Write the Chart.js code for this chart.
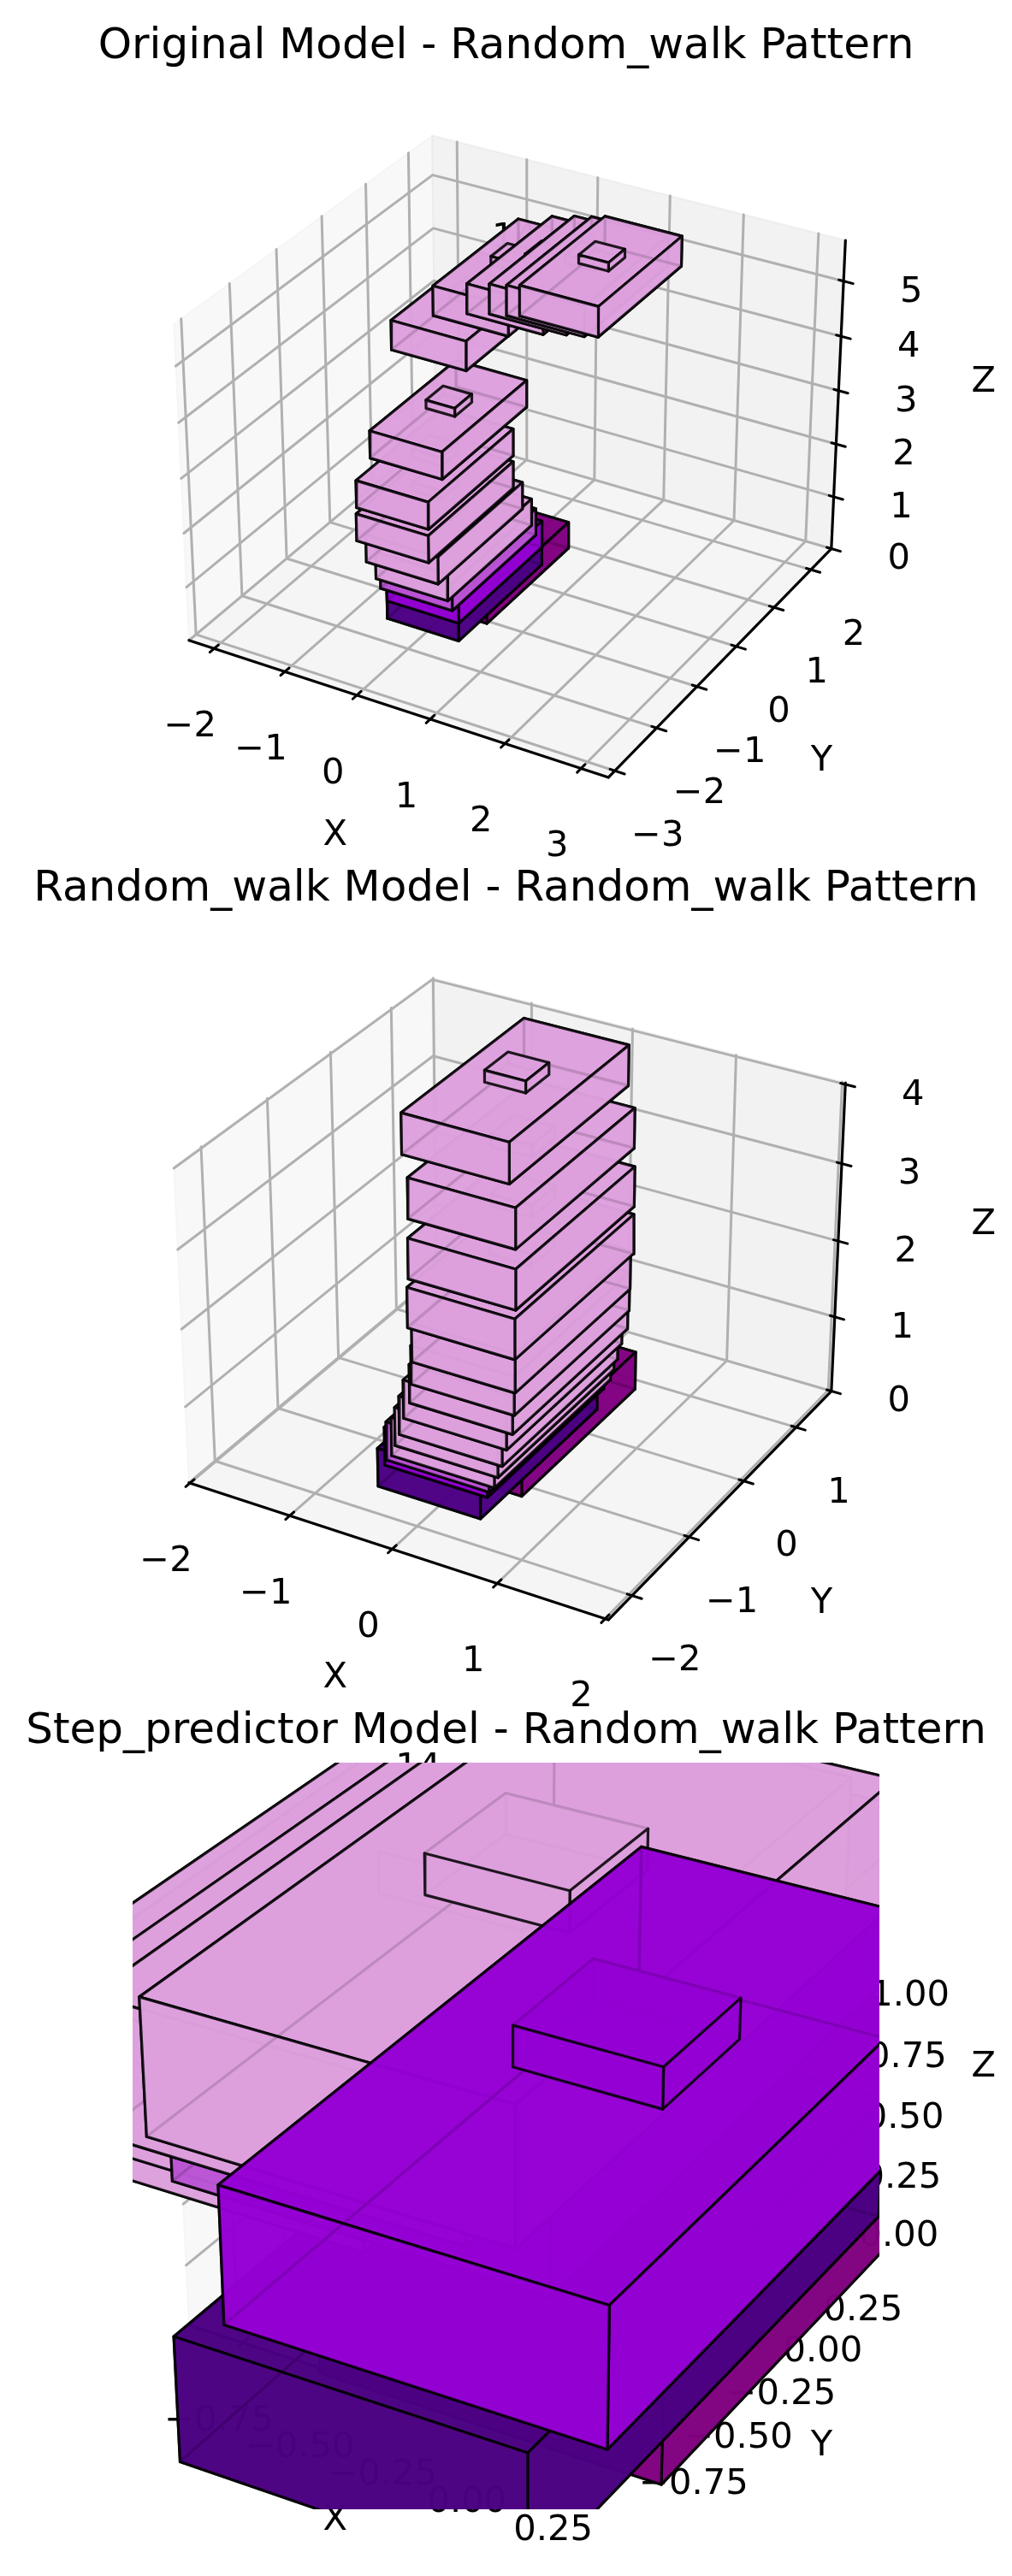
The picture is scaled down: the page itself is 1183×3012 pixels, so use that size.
<!DOCTYPE html>
<html>
<head>
<meta charset="utf-8">
<title>Random_walk Pattern</title>
<script src="https://cdn.jsdelivr.net/npm/chart.js@4"></script>
<style>
  html, body { margin: 0; background: #fff; }
  #wrap { position: relative; width: 1183px; height: 3012px; overflow: hidden; }
  canvas { position: absolute; left: 0; }
</style>
</head>
<body>
<div id="wrap">
  <canvas id="c1" width="1183" height="1042" style="top:0"></canvas>
  <canvas id="c2" width="1183" height="1042" style="top:985px"></canvas>
  <canvas id="c3" width="1183" height="1042" style="top:1970px"></canvas>
</div>
<script>
// layer colours, by layer kind
const layerColors = ['128,0,128', '75,0,130', '148,0,211', '186,85,211', '221,160,221'];

// Original model
const title1 = 'Original Model - Random_walk Pattern';
const xLim1 = [-2.36, 3.355];
const yLim1 = [-3.15, 2.57];
const zLim1 = [0, 5.73];
const xTicks1 = [-2, -1, 0, 1, 2, 3];
const yTicks1 = [-3, -2, -1, 0, 1, 2];
const zTicks1 = [0, 1, 2, 3, 4, 5];
const barX1 = [-0.47, -0.565, -0.567, -0.642, -0.678, -0.784, -0.908, -0.981, -0.976, -1.436, -1.088, -0.544, -0.165, 0.17, 0.482];
const barY1 = [-1.05, -1.55, -1.545, -1.565, -1.608, -1.648, -1.657, -1.531, -1.213, 0.045, 0.453, 0.338, 0.224, 0.053, -0.18];
const barZ1 = [0, 0, 0.33, 0.55, 0.75, 1.05, 1.4, 1.9, 2.6, 3.6, 4.1, 4.4, 4.6, 4.8, 5.05];
const barDX1 = [1, 1, 1, 1, 1, 1, 1, 1, 1, 1.05, 1.05, 1.05, 1.05, 1.05, 1.05];
const barDY1 = [2, 2, 2, 2, 2, 2, 2, 2, 2, 2.06, 2.06, 2.06, 2.06, 2.06, 2.06];
const barDZ1 = [0.5, 0.5, 0.5, 0.5, 0.5, 0.5, 0.5, 0.5, 0.5, 0.54, 0.54, 0.54, 0.54, 0.54, 0.54];
const barKind1 = [0, 1, 2, 3, 4, 4, 4, 4, 4, 4, 4, 4, 4, 4, 4];
const note1 = [-0.09, 0.69, 5.7];

// Random_walk model
const title2 = 'Random_walk Model - Random_walk Pattern';
const xLim2 = [-2.01, 2.03];
const yLim2 = [-2.4, 1.7];
const zLim2 = [0, 4.02];
const xTicks2 = [-2, -1, 0, 1, 2];
const yTicks2 = [-2, -1, 0, 1];
const zTicks2 = [0, 1, 2, 3, 4];
const barX2 = [-0.475, -0.6, -0.586, -0.584, -0.556, -0.545, -0.536, -0.53, -0.518, -0.54, -0.571, -0.662, -0.739, -0.845, -1.011];
const barY2 = [-1.16, -1.636, -1.544, -1.518, -1.478, -1.439, -1.383, -1.32, -1.239, -1.172, -1.103, -1.018, -0.868, -0.684, -0.497];
const barZ2 = [0, 0, 0.22, 0.27, 0.31, 0.42, 0.53, 0.7, 0.85, 1.04, 1.27, 1.62, 2.12, 2.73, 3.37];
const barDX2 = [1, 1, 1, 1, 1, 1, 1, 1, 1, 1, 1, 1.04, 1.04, 1.04, 1.04];
const barDY2 = [2.02, 2.02, 2.02, 2.02, 2.02, 2.02, 2.02, 2.02, 2.02, 2.02, 2.02, 2.08, 2.08, 2.08, 2.08];
const barDZ2 = [0.5, 0.5, 0.5, 0.5, 0.5, 0.5, 0.5, 0.5, 0.5, 0.5, 0.5, 0.52, 0.52, 0.52, 0.52];
const barKind2 = [0, 1, 2, 3, 4, 4, 4, 4, 4, 4, 4, 4, 4, 4, 4];
const note2 = [-0.51, 0.49, 3.9];

// Step_predictor model, listed back to front
const title3 = 'Step_predictor Model - Random_walk Pattern';
const xLim3 = [-0.92, 0.34];
const yLim3 = [-0.98, 0.32];
const zLim3 = [0, 1.27];
const xTicks3 = [-0.75, -0.5, -0.25, 0, 0.25];
const yTicks3 = [-0.75, -0.5, -0.25, 0, 0.25];
const zTicks3 = [0, 0.25, 0.5, 0.75, 1];
const barX3 = [-0.5, -0.587, -0.794, -0.841, -0.732, -0.388, -0.656, -0.555, -0.165];
const barY3 = [-1, -1.53, -1.694, -1.835, -1.749, -1.789, -1.695, -1.646, -1.93];
const barZ3 = [0, 0, 1.35, 1.35, 1.35, 1.35, 1.35, 1.35, 1.02];
const barDX3 = [1, 1, 1, 1, 1, 1, 1, 1, 1];
const barDY3 = [2, 2, 2, 2, 2, 2, 2, 2, 2.05];
const barDZ3 = [0.5, 0.5, 0.5, 0.5, 0.5, 0.5, 0.5, 0.5, 0.5];
const barKind3 = [0, 1, 4, 4, 4, 3, 4, 4, 2];
const note3 = [-0.85, 0.13, 1.6];
const noteText = '14';

// the small block that sits on each layer
const headDX = 0.4, headDY = 0.4, headDZ = 0.15;

const BAR_ALPHA = 0.85;
const FONT = '"DejaVu Sans"';
const RAD = Math.PI / 180;

// default 3d view: elev 30, azim -60, box aspect 4:4:3, camera distance 10
function makeCamera(xLim, yLim, zLim) {
  const k = 1.8294640721620434 * 25 / 24 / Math.sqrt(41);
  const box = [4 * k, 4 * k, 3 * k];
  const ce = Math.cos(30 * RAD), se = Math.sin(30 * RAD);
  const ca = Math.cos(-60 * RAD), sa = Math.sin(-60 * RAD);
  const w = [ce * ca, ce * sa, se];
  const u = [-w[1] / ce, w[0] / ce, 0];
  const v = [w[1] * u[2] - w[2] * u[1], w[2] * u[0] - w[0] * u[2], w[0] * u[1] - w[1] * u[0]];
  return function (x, y, z) {
    const p = [
      ((x - xLim[0]) / (xLim[1] - xLim[0]) - 0.5) * box[0],
      ((y - yLim[0]) / (yLim[1] - yLim[0]) - 0.5) * box[1],
      ((z - zLim[0]) / (zLim[1] - zLim[0]) - 0.5) * box[2]
    ];
    const dot = (a) => a[0] * p[0] + a[1] * p[1] + a[2] * p[2];
    const depth = 10 - dot(w);
    return { x: dot(u) / depth, y: dot(v) / depth, depth: depth };
  };
}

function polyDataset(cam, pts, fill, edge, width) {
  const data = pts.map(p => { const q = cam(p[0], p[1], p[2]); return { x: q.x, y: q.y }; });
  return {
    data: data,
    fill: fill ? 'shape' : false,
    backgroundColor: fill || 'transparent',
    borderColor: edge,
    borderWidth: width,
    pointRadius: 0,
    tension: 0,
    borderJoinStyle: 'round',
    borderCapStyle: 'round'
  };
}

function boxFaces(x0, y0, z0, dx, dy, dz) {
  const x1 = x0 + dx, y1 = y0 + dy, z1 = z0 + dz;
  return [
    [[x0, y0, z0], [x1, y0, z0], [x1, y1, z0], [x0, y1, z0]],
    [[x0, y0, z1], [x1, y0, z1], [x1, y1, z1], [x0, y1, z1]],
    [[x0, y0, z0], [x1, y0, z0], [x1, y0, z1], [x0, y0, z1]],
    [[x0, y1, z0], [x1, y1, z0], [x1, y1, z1], [x0, y1, z1]],
    [[x0, y0, z0], [x0, y1, z0], [x0, y1, z1], [x0, y0, z1]],
    [[x1, y0, z0], [x1, y1, z0], [x1, y1, z1], [x1, y0, z1]]
  ];
}

// a layer and its small block are sorted together, on the mean of 1/depth
function layerDatasets(cam, faces, rgb) {
  const sorted = faces.map(f => {
    const mean = f.reduce((s, p) => s + 1 / cam(p[0], p[1], p[2]).depth, 0) / 4;
    return { f: f, mean: mean };
  });
  sorted.sort((a, b) => a.mean - b.mean);
  return sorted.map(o => polyDataset(cam, o.f.concat([o.f[0]]),
    'rgba(' + rgb + ',' + BAR_ALPHA + ')', 'rgba(0,0,0,' + BAR_ALPHA + ')', 3.2));
}

function frameDatasets(cam, cfg) {
  const xl = cfg.xLim, yl = cfg.yLim, zl = cfg.zLim;
  const sets = [];
  const paneWall = (pts, col) => sets.push(polyDataset(cam, pts.concat([pts[0]]), col, col, 2));
  paneWall([[xl[0], yl[0], zl[0]], [xl[0], yl[1], zl[0]], [xl[0], yl[1], zl[1]], [xl[0], yl[0], zl[1]]], 'rgba(242,242,242,0.5)');
  paneWall([[xl[0], yl[1], zl[0]], [xl[1], yl[1], zl[0]], [xl[1], yl[1], zl[1]], [xl[0], yl[1], zl[1]]], 'rgba(230,230,230,0.5)');
  paneWall([[xl[0], yl[0], zl[0]], [xl[1], yl[0], zl[0]], [xl[1], yl[1], zl[0]], [xl[0], yl[1], zl[0]]], 'rgba(236,236,236,0.5)');

  const gridCol = 'rgb(176,176,176)';
  const line = (pts, col, w) => sets.push(polyDataset(cam, pts, null, col, w));
  cfg.xTicks.forEach(t => line([[t, yl[0], zl[0]], [t, yl[1], zl[0]], [t, yl[1], zl[1]]], gridCol, 3));
  cfg.yTicks.forEach(t => line([[xl[1], t, zl[0]], [xl[0], t, zl[0]], [xl[0], t, zl[1]]], gridCol, 3));
  cfg.zTicks.forEach(t => line([[xl[0], yl[0], t], [xl[0], yl[1], t], [xl[1], yl[1], t]], gridCol, 3));

  line([[xl[0], yl[0], zl[0]], [xl[1], yl[0], zl[0]]], '#000', 3.2);
  line([[xl[1], yl[0], zl[0]], [xl[1], yl[1], zl[0]]], '#000', 3.2);
  line([[xl[1], yl[1], zl[0]], [xl[1], yl[1], zl[1]]], '#000', 3.2);

  const dy = yl[1] - yl[0], dx = xl[1] - xl[0];
  cfg.xTicks.forEach(t => line([[t, yl[0] - 0.016 * dy, zl[0]], [t, yl[0] + 0.016 * dy, zl[0]]], '#000', 3));
  cfg.yTicks.forEach(t => line([[xl[1] + 0.022 * dx, t, zl[0]], [xl[1] - 0.011 * dx, t, zl[0]]], '#000', 3));
  cfg.zTicks.forEach(t => line([[xl[1] + 0.022 * dx, yl[1], t], [xl[1] - 0.011 * dx, yl[1], t]], '#000', 3));
  sets[sets.length - 1].lastFrame = true;
  return sets;
}

function fmt(t, digits) {
  return (t < 0 ? '\u2212' : '') + Math.abs(t).toFixed(digits);
}

// tick labels go under the bars, as they do in the picture
const axisText = {
  id: 'axisText',
  beforeDraw(chart) {
    // the layout padding would squeeze the title to the plot width
    chart.titleBlock.left = 0;
    chart.titleBlock.right = chart.width;
  },
  afterDatasetDraw(chart, args) {
    if (!chart.data.datasets[args.index].lastFrame) return;
    const cfg = chart.config.options.plugins.axisText;
    const cam = cfg.cam;
    const sx = chart.scales.x, sy = chart.scales.y, ctx = chart.ctx;
    const put = (txt, p, ox, oy) => {
      const q = cam(p[0], p[1], p[2]);
      ctx.fillText(txt, sx.getPixelForValue(q.x) + ox, sy.getPixelForValue(q.y) + oy);
    };
    const xl = cfg.xLim, yl = cfg.yLim, zl = cfg.zLim;
    ctx.save();
    ctx.fillStyle = '#000';
    ctx.textAlign = 'center';
    ctx.textBaseline = 'middle';
    ctx.font = '41.67px ' + FONT;
    cfg.xTicks.forEach(t => put(fmt(t, cfg.digits), [t, yl[0], zl[0]], -28, 92));
    cfg.yTicks.forEach(t => put(fmt(t, cfg.digits), [xl[1], t, zl[0]], 50, 77));
    cfg.zTicks.forEach(t => put(fmt(t, cfg.digits), [xl[1], yl[1], t], 79, cfg.zLabelDy));
    put('X', [(xl[0] + xl[1]) / 2, yl[0], zl[0]], -68, 150);
    put('Y', [xl[1], (yl[0] + yl[1]) / 2, zl[0]], 113, 121);
    put('Z', [xl[1], yl[1], (zl[0] + zl[1]) / 2], 170, -18);
    put(noteText, cfg.note, 0, 0);
    ctx.restore();
  }
};

function buildChart(id, cfg) {
  const cam = makeCamera(cfg.xLim, cfg.yLim, cfg.zLim);
  let sets = frameDatasets(cam, cfg);
  cfg.barX.forEach((bx, i) => {
    const rgb = layerColors[cfg.barKind[i]];
    const dx = cfg.barDX[i], dy = cfg.barDY[i], dz = cfg.barDZ[i];
    const hx = bx + (dx - headDX) / 2, hy = cfg.barY[i] + (dy - headDY) / 2;
    const faces = boxFaces(bx, cfg.barY[i], cfg.barZ[i], dx, dy, dz)
      .concat(boxFaces(hx, hy, cfg.barZ[i] + dz, headDX, headDY, headDZ));
    sets = sets.concat(layerDatasets(cam, faces, rgb));
  });
  // chart.js paints the highest order first
  sets.forEach((s, i) => { s.order = sets.length - i; });

  return new Chart(document.getElementById(id), {
    type: 'line',
    data: { datasets: sets },
    plugins: [axisText],
    options: {
      responsive: false,
      animation: false,
      devicePixelRatio: 1,
      events: [],
      layout: { padding: { left: 155, right: 155, top: 0, bottom: 78 } },
      scales: {
        x: { type: 'linear', display: false, min: -0.095, max: 0.09 },
        y: { type: 'linear', display: false, min: -0.095, max: 0.09 }
      },
      plugins: {
        legend: { display: false },
        tooltip: { enabled: false },
        title: {
          display: true,
          text: cfg.title,
          color: '#000',
          font: { family: FONT, size: 50, weight: 'normal', lineHeight: 1.2 },
          padding: { top: 25, bottom: 6 }
        },
        axisText: Object.assign({ cam: cam }, cfg)
      }
    }
  });
}

buildChart('c1', { title: title1, xLim: xLim1, yLim: yLim1, zLim: zLim1, xTicks: xTicks1, yTicks: yTicks1, zTicks: zTicks1, digits: 0, zLabelDy: 13,
  barX: barX1, barY: barY1, barZ: barZ1, barDX: barDX1, barDY: barDY1, barDZ: barDZ1, barKind: barKind1, note: note1 });
buildChart('c2', { title: title2, xLim: xLim2, yLim: yLim2, zLim: zLim2, xTicks: xTicks2, yTicks: yTicks2, zTicks: zTicks2, digits: 0, zLabelDy: 13,
  barX: barX2, barY: barY2, barZ: barZ2, barDX: barDX2, barDY: barDY2, barDZ: barDZ2, barKind: barKind2, note: note2 });
buildChart('c3', { title: title3, xLim: xLim3, yLim: yLim3, zLim: zLim3, xTicks: xTicks3, yTicks: yTicks3, zTicks: zTicks3, digits: 2, zLabelDy: 4,
  barX: barX3, barY: barY3, barZ: barZ3, barDX: barDX3, barDY: barDY3, barDZ: barDZ3, barKind: barKind3, note: note3 });
</script>
</body>
</html>
